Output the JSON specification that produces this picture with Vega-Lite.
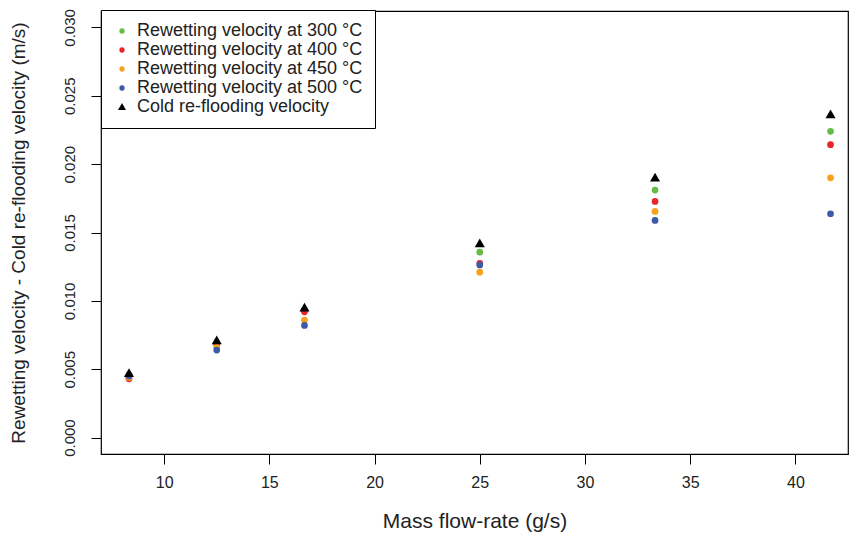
{
  "$schema": "https://vega.github.io/schema/vega-lite/v6.json",
  "autosize": "none",
  "padding": {"left": 101, "top": 11, "right": 1, "bottom": 81},
  "width": 747,
  "height": 443,
  "background": "white",
  "config": {
    "font": "Liberation Sans",
    "view": {"stroke": "black", "strokeWidth": 1.2},
    "axis": {"grid": false, "domain": false, "tickColor": "black", "tickSize": 10, "tickWidth": 1, "labelColor": "#222", "titleColor": "#222", "labelFont": "Liberation Sans", "titleFont": "Liberation Sans", "titleFontWeight": "normal"}
  },
  "data": {
    "values": [
      {"x": 8.33, "v": 0.0046, "series": "Rewetting velocity at 300 °C"},
      {"x": 8.33, "v": 0.0043, "series": "Rewetting velocity at 400 °C"},
      {"x": 8.33, "v": 0.0044, "series": "Rewetting velocity at 450 °C"},
      {"x": 8.33, "v": 0.0045, "series": "Rewetting velocity at 500 °C"},
      {"x": 8.33, "v": 0.0047, "series": "Cold re-flooding velocity"},
      {"x": 12.5, "v": 0.0069, "series": "Rewetting velocity at 300 °C"},
      {"x": 12.5, "v": 0.0068, "series": "Rewetting velocity at 400 °C"},
      {"x": 12.5, "v": 0.0066, "series": "Rewetting velocity at 450 °C"},
      {"x": 12.5, "v": 0.0064, "series": "Rewetting velocity at 500 °C"},
      {"x": 12.5, "v": 0.0071, "series": "Cold re-flooding velocity"},
      {"x": 16.67, "v": 0.0093, "series": "Rewetting velocity at 300 °C"},
      {"x": 16.67, "v": 0.0092, "series": "Rewetting velocity at 400 °C"},
      {"x": 16.67, "v": 0.0086, "series": "Rewetting velocity at 450 °C"},
      {"x": 16.67, "v": 0.0082, "series": "Rewetting velocity at 500 °C"},
      {"x": 16.67, "v": 0.0095, "series": "Cold re-flooding velocity"},
      {"x": 25, "v": 0.01356, "series": "Rewetting velocity at 300 °C"},
      {"x": 25, "v": 0.01275, "series": "Rewetting velocity at 400 °C"},
      {"x": 25, "v": 0.0121, "series": "Rewetting velocity at 450 °C"},
      {"x": 25, "v": 0.01263, "series": "Rewetting velocity at 500 °C"},
      {"x": 25, "v": 0.0142, "series": "Cold re-flooding velocity"},
      {"x": 33.33, "v": 0.0181, "series": "Rewetting velocity at 300 °C"},
      {"x": 33.33, "v": 0.01727, "series": "Rewetting velocity at 400 °C"},
      {"x": 33.33, "v": 0.01654, "series": "Rewetting velocity at 450 °C"},
      {"x": 33.33, "v": 0.01588, "series": "Rewetting velocity at 500 °C"},
      {"x": 33.33, "v": 0.019, "series": "Cold re-flooding velocity"},
      {"x": 41.67, "v": 0.0224, "series": "Rewetting velocity at 300 °C"},
      {"x": 41.67, "v": 0.02142, "series": "Rewetting velocity at 400 °C"},
      {"x": 41.67, "v": 0.019, "series": "Rewetting velocity at 450 °C"},
      {"x": 41.67, "v": 0.01637, "series": "Rewetting velocity at 500 °C"},
      {"x": 41.67, "v": 0.02363, "series": "Cold re-flooding velocity"}
    ]
  },
  "mark": {"type": "point", "filled": true, "opacity": 1, "size": 45},
  "encoding": {
    "x": {
      "field": "x", "type": "quantitative",
      "scale": {"domain": [7, 42.5], "nice": false, "zero": false},
      "axis": {"values": [10, 15, 20, 25, 30, 35, 40], "title": "Mass flow-rate (g/s)", "labelFontSize": 16, "labelPadding": 10, "titleFontSize": 21, "titlePadding": 20}
    },
    "y": {
      "field": "v", "type": "quantitative",
      "scale": {"domain": [-0.0012, 0.0312], "nice": false, "zero": false},
      "axis": {"values": [0, 0.005, 0.01, 0.015, 0.02, 0.025, 0.03], "format": ".3f", "title": "Rewetting velocity - Cold re-flooding velocity (m/s)", "labelAngle": -90, "labelAlign": "center", "labelBaseline": "bottom", "labelFontSize": 15, "labelPadding": 14, "titleFontSize": 19, "titlePadding": 34}
    },
    "color": {
      "field": "series", "type": "nominal",
      "scale": {
        "domain": ["Rewetting velocity at 300 °C", "Rewetting velocity at 400 °C", "Rewetting velocity at 450 °C", "Rewetting velocity at 500 °C", "Cold re-flooding velocity"],
        "range": ["#66BB47", "#E8262A", "#F7A11E", "#3B5BA8", "#000000"]
      },
      "legend": {"title": null, "orient": "none", "legendX": 0, "legendY": -1, "strokeColor": "black", "fillColor": "white", "padding": 12, "labelFontSize": 18, "labelFont": "Liberation Sans", "labelColor": "#222", "symbolSize": 28, "labelOffset": 6, "rowPadding": 1, "symbolStrokeWidth": 0, "labelLimit": 400}
    },
    "shape": {
      "field": "series", "type": "nominal",
      "scale": {
        "domain": ["Rewetting velocity at 300 °C", "Rewetting velocity at 400 °C", "Rewetting velocity at 450 °C", "Rewetting velocity at 500 °C", "Cold re-flooding velocity"],
        "range": ["circle", "circle", "circle", "circle", "M0,-1.5L1.5,1.1L-1.5,1.1Z"]
      },
      "legend": null
    }
  }
}
